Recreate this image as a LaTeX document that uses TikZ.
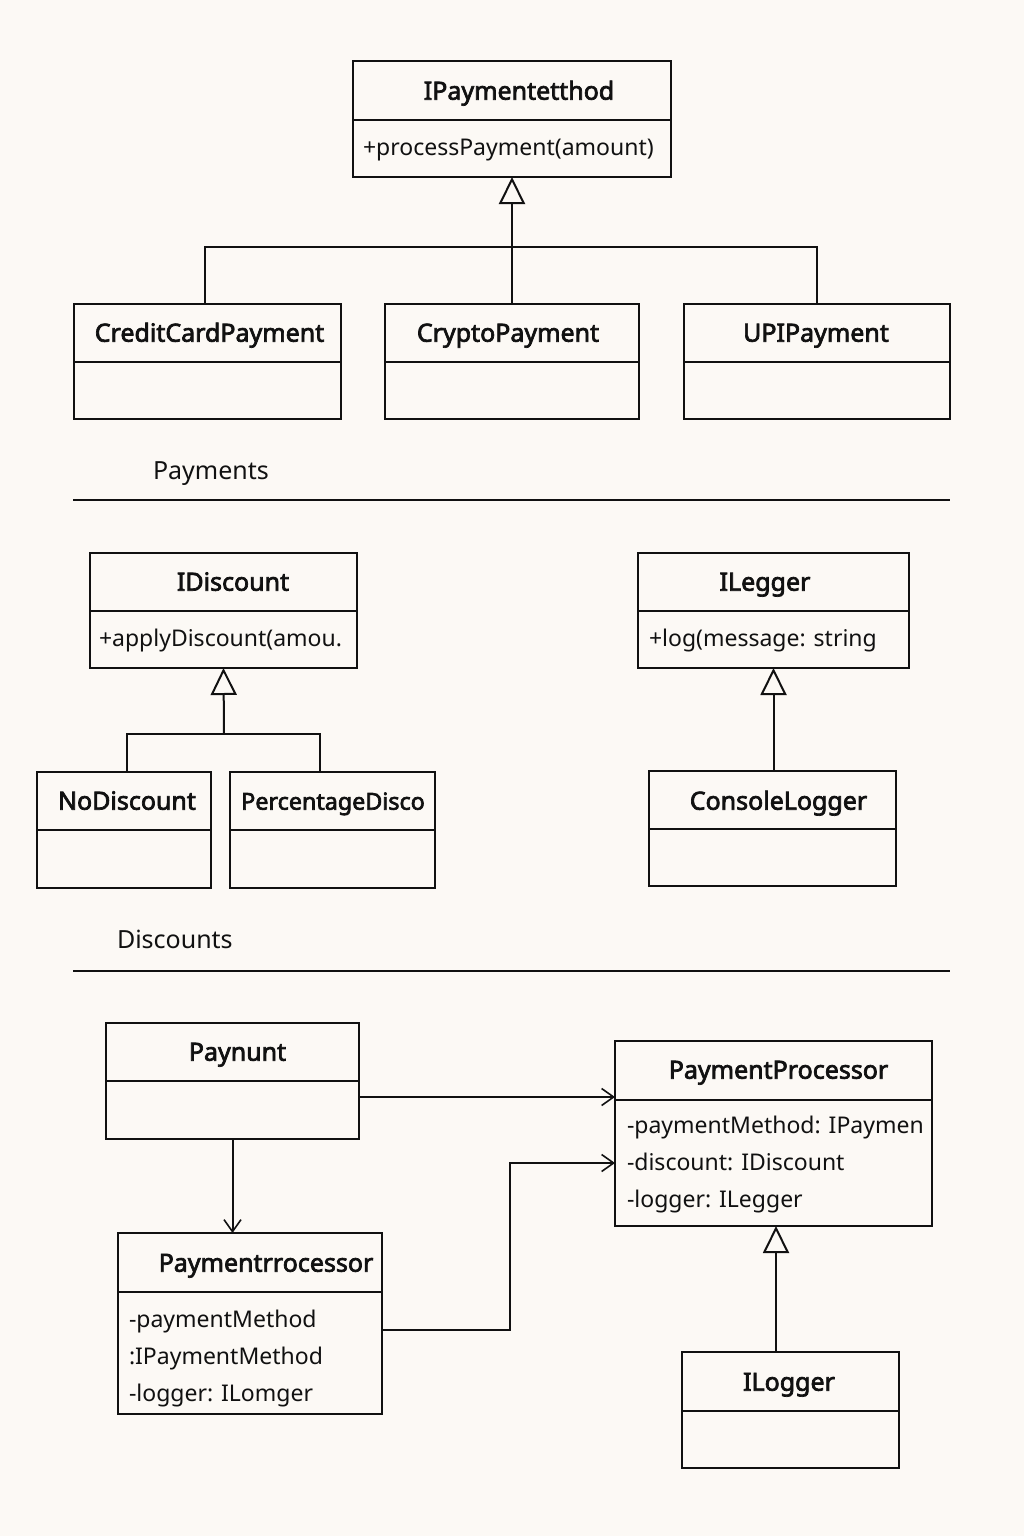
\documentclass[tikz,border=0pt]{standalone}
\usepackage{fontspec}
\setmainfont{Noto Sans}[BoldFont={Noto Sans}, BoldFeatures={FakeBold=2.8}]
\usetikzlibrary{arrows.meta}
\definecolor{bg}{HTML}{FCF9F5}
\definecolor{ink}{HTML}{111111}
\begin{document}
\begin{tikzpicture}[x=1pt,y=-1pt, line width=2pt, draw=ink,
 box/.style={draw=ink, rectangle, outer sep=0pt, inner sep=0pt},
 ttl/.style={font=\bfseries\fontsize{25}{29}\selectfont, inner sep=0pt, anchor=mid, text=ink},
 attr/.style={font=\fontsize{23}{27}\selectfont, anchor=mid west, inner sep=0pt, text=ink},
 sect/.style={font=\fontsize{25}{29}\selectfont, anchor=mid west, inner sep=0pt, text=ink},
 inh/.style={-{Triangle[open,width=26pt,length=27pt,line width=2pt]}},
 assoc/.style={-{Straight Barb[length=12pt,width=17pt,line width=1.6pt]}}
]
\fill[bg] (0,0) rectangle (1024,1536);
\useasboundingbox (0,0) rectangle (1024,1536);

% ---------- Payments ----------
\node[box, minimum width=318pt, minimum height=116pt] (pm) at (512,119) {};
\draw (pm.west |- 0,120) -- (pm.east |- 0,120);
\node[ttl] (pmt) at (519,97) {IPaymentetthod};
\node[attr] (pma) at (362,153) {+processPayment(amount)};

\node[box, minimum width=267pt, minimum height=115pt] (cc) at (207.5,361.5) {};
\draw (cc.west |- 0,362) -- (cc.east |- 0,362);
\node[ttl] (cct) at (209.5,339) {CreditCardPayment};

\node[box, minimum width=254pt, minimum height=115pt] (cr) at (512,361.5) {};
\draw (cr.west |- 0,362) -- (cr.east |- 0,362);
\node[ttl] (crt) at (508,339) {CryptoPayment};

\node[box, minimum width=266pt, minimum height=115pt] (upi) at (817,361.5) {};
\draw (upi.west |- 0,362) -- (upi.east |- 0,362);
\node[ttl] (upit) at (816,339) {UPIPayment};

\coordinate (j1) at (512,247);
\draw[inh] (j1) -- (pm.south);
\draw ([xshift=-2.5pt]cc.north) |- (j1) -| (upi.north);
\draw (cr.north) -- (j1);

\node[sect] (lblpay) at (152,477) {Payments};
\coordinate (s1a) at (73,500);
\coordinate (s1b) at (950,500);
\draw[line width=1.6pt] (s1a) -- (s1b);

% ---------- Discounts ----------
\node[box, minimum width=267pt, minimum height=115pt] (id) at (223.5,610.5) {};
\draw (id.west |- 0,611) -- (id.east |- 0,611);
\node[ttl] (idt) at (233,588) {IDiscount};
\node[attr] (ida) at (98,644) {+applyDiscount(amou.};

\node[box, minimum width=174pt, minimum height=116pt] (nd) at (124,830) {};
\draw (nd.west |- 0,830) -- (nd.east |- 0,830);
\node[ttl] (ndt) at (127,807) {NoDiscount};

\node[box, minimum width=205pt, minimum height=116pt] (pd) at (332.5,830) {};
\draw (pd.west |- 0,830) -- (pd.east |- 0,830);
\node[ttl, font=\bfseries\fontsize{23.3}{27}\selectfont] (pdt) at (333,807) {PercentageDisco};

\coordinate (j2) at (224,734);
\draw[inh] (j2) -- (id.south);
\draw ([xshift=3pt]nd.north) |- (j2) -| ([xshift=-12.5pt]pd.north);

\node[box, minimum width=271pt, minimum height=115pt] (il) at (773.5,610.5) {};
\draw (il.west |- 0,611) -- (il.east |- 0,611);
\node[ttl] (ilt) at (765,588) {ILegger};
\node[attr] (ila) at (648,644) {+log(message: string};

\node[box, minimum width=247pt, minimum height=115pt] (cl) at (772.5,828.5) {};
\draw (cl.west |- 0,829) -- (cl.east |- 0,829);
\node[ttl] (clt) at (778.5,807) {ConsoleLogger};

\draw[inh] (il.south |- cl.north) -- (il.south);

\node[sect] (lbldis) at (116,946) {Discounts};
\coordinate (s2a) at (73,971);
\coordinate (s2b) at (950,971);
\draw[line width=1.6pt] (s2a) -- (s2b);

% ---------- Processor ----------
\node[box, minimum width=253pt, minimum height=116pt] (pn) at (232.5,1081) {};
\draw (pn.west |- 0,1081) -- (pn.east |- 0,1081);
\node[ttl] (pnt) at (237.5,1058) {Paynunt};

\node[box, minimum width=264pt, minimum height=181pt] (pr) at (250,1323.5) {};
\draw (pr.west |- 0,1292) -- (pr.east |- 0,1292);
\node[ttl] (prt) at (266,1269) {Paymentrrocessor};
\node[attr] (pra1) at (128,1325) {-paymentMethod};
\node[attr] (pra2) at (128,1362) {:IPaymentMethod};
\node[attr] (pra3) at (128,1399) {-logger: ILomger};

\node[box, minimum width=317pt, minimum height=185pt] (pp) at (773.5,1133.5) {};
\draw (pp.west |- 0,1100) -- (pp.east |- 0,1100);
\node[ttl] (ppt) at (778.5,1076) {PaymentProcessor};
\node[attr] (ppa1) at (626,1131) {-paymentMethod: IPaymen};
\node[attr] (ppa2) at (626,1168) {-discount: IDiscount};
\node[attr] (ppa3) at (626,1205) {-logger: ILegger};

\node[box, minimum width=217pt, minimum height=116pt] (ilg) at (790.5,1410) {};
\draw (ilg.west |- 0,1411) -- (ilg.east |- 0,1411);
\node[ttl] (ilgt) at (789,1388) {ILogger};

\draw[inh] ([xshift=2.5pt]pp.south |- ilg.north) -- ([xshift=2.5pt]pp.south);

\draw[assoc] (pn.east |- 0,1097) -- (pp.west |- 0,1097);
\draw[assoc] (pn.south) -- (pn.south |- pr.north);
\coordinate (bend) at (510,1163);
\draw[assoc] (pr.east |- 0,1330) -| (bend) -- (pp.west |- bend);
\end{tikzpicture}
\end{document}
